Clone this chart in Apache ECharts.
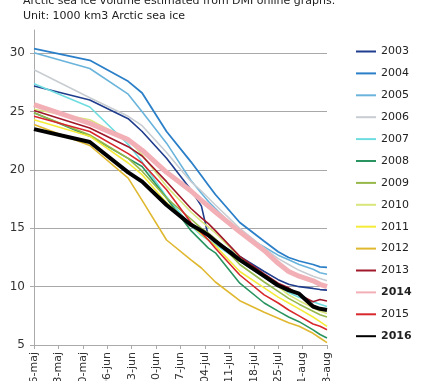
<!DOCTYPE html>
<html>
<head>
<meta charset="utf-8">
<script src="https://cdn.jsdelivr.net/npm/echarts@6/dist/echarts.min.js"></script>
<style>html,body{margin:0;padding:0;background:#fff}#c{width:421px;height:381px}</style>
</head>
<body>
<div id="c"></div>
<script>
// x positions are days after 16-maj
var days = [0, 16, 27, 31, 38, 45, 48, 50, 52, 59, 66, 70, 73, 76, 80, 82, 84];
var tickLabels = ["16-maj","23-maj","30-maj","06-jun","13-jun","20-jun","27-jun","04-jul","11-jul","18-jul","25-jul","01-aug","08-aug"];
var years = ["2003","2004","2005","2006","2007","2008","2009","2010","2011","2012","2013","2014","2015","2016"];
var v2003 = [27.2,26.0,24.4,23.3,21.0,18.3,16.9,14.3,13.9,12.6,11.3,10.6,10.2,10.0,9.85,9.75,9.7];
var v2004 = [30.4,29.4,27.6,26.6,23.3,20.7,19.5,18.7,17.9,15.5,13.9,13.0,12.5,12.2,11.9,11.7,11.66];
var v2005 = [30.05,28.7,26.5,25.0,22.3,19.1,18.0,17.3,16.7,14.6,13.4,12.7,12.3,11.9,11.5,11.2,11.06];
var v2006 = [28.6,26.2,24.6,23.8,21.5,19.0,18.2,17.6,17.0,15.0,13.3,12.4,11.9,11.4,10.9,10.7,10.5];
var v2007 = [27.4,25.4,22.2,20.7,17.7,15.2,14.4,14.0,13.6,12.2,10.8,10.0,9.5,9.1,8.7,8.5,8.3];
var v2008 = [24.9,22.9,21.0,20.3,17.6,14.8,13.9,13.3,12.9,10.3,8.6,7.9,7.4,7.0,6.3,5.9,5.6];
var v2009 = [24.9,23.0,21.0,19.9,17.6,15.8,15.0,14.6,14.1,11.9,10.4,9.6,9.0,8.5,7.9,7.6,7.4];
var v2010 = [25.2,24.3,22.6,21.3,18.6,16.4,15.6,15.1,14.6,12.5,10.9,10.0,9.3,8.8,8.2,7.9,7.7];
var v2011 = [24.3,22.9,20.6,19.6,17.2,15.3,14.5,14.0,13.5,11.3,9.9,9.1,8.6,8.1,7.4,7.0,6.6];
var v2012 = [23.9,22.1,19.3,17.4,14.0,12.3,11.6,11.0,10.4,8.8,7.8,7.3,6.9,6.6,6.0,5.6,5.2];
var v2013 = [25.1,23.6,22.0,21.2,19.0,16.7,15.9,15.4,14.8,12.6,11.1,10.3,9.9,9.3,8.7,8.9,8.77];
var v2014 = [25.6,24.0,22.6,21.7,19.8,18.2,17.4,16.9,16.4,14.7,13.1,12.0,11.3,10.9,10.5,10.2,10.0];
var v2015 = [24.6,23.3,21.4,20.6,18.3,15.5,14.6,14.0,13.3,11.0,9.3,8.6,8.0,7.5,6.8,6.6,6.3];
var v2016 = [23.5,22.4,19.8,19.0,17.0,15.3,14.8,14.4,13.9,12.3,10.9,10.1,9.7,9.4,8.3,8.1,8.0];
var values = [v2003,v2004,v2005,v2006,v2007,v2008,v2009,v2010,v2011,v2012,v2013,v2014,v2015,v2016];

var colors = ["#1f3d8c","#2a7fc8","#6ab4dc","#c8cdd2","#6fdde0","#2a9460","#96b84a","#d8e67c","#f5ec3a","#e0b830","#a0182a","#f2b0b6","#d8282c","#000000"];
var widths = [1.6,1.8,1.6,1.6,1.6,1.6,1.6,1.6,1.6,1.6,1.6,5,1.6,4];
var boldYears = {"2014":true,"2016":true};

var series = years.map(function(y, i){
  return {
    name: y, type: 'line', symbol: 'none', smooth: false,
    data: days.map(function(d, k){ return [d, values[i][k]]; }),
    lineStyle: {color: colors[i], width: widths[i]},
    itemStyle: {color: colors[i]},
    emphasis: {disabled: true},
    z: (y === "2016" ? 5 : (y === "2014" ? 3 : 2))
  };
});

var chart = echarts.init(document.getElementById('c'), null, {renderer: 'canvas'});
chart.setOption({
  animation: false,
  backgroundColor: '#fff',
  textStyle: {fontFamily: 'DejaVu Sans'},
  title: {
    text: 'Arctic sea ice volume estimated from DMI online graphs.\nUnit: 1000 km3 Arctic sea ice',
    left: 18, top: -11,
    textStyle: {fontFamily: 'DejaVu Sans', fontSize: 11, fontWeight: 'normal', color: '#222', lineHeight: 15}
  },
  grid: {left: 34, right: 94, top: 30, bottom: 36, containLabel: false, outerBoundsMode: 'none'},
  legend: {
    orient: 'vertical', left: 350, top: 41,
    itemWidth: 20, itemHeight: 10, itemGap: 10.9,
    itemStyle: {opacity: 0},
    data: years.map(function(y){
      return {name: y, textStyle: {fontWeight: boldYears[y] ? 'bold' : 'normal'}};
    }),
    textStyle: {fontFamily: 'DejaVu Sans', fontSize: 11, color: '#222'}
  },
  xAxis: {
    type: 'value', min: 0, max: 84, interval: 7,
    axisLine: {show: true, lineStyle: {color: '#aaa'}},
    axisTick: {show: true, length: 4, lineStyle: {color: '#aaa'}},
    splitLine: {show: false},
    axisLabel: {
      rotate: 90, margin: 7, fontSize: 11, color: '#333', fontFamily: 'DejaVu Sans',
      formatter: function(v){ return tickLabels[Math.round(v/7)] || ''; }
    }
  },
  yAxis: {
    type: 'value', min: 5, max: 32, interval: 5,
    axisLine: {show: true, lineStyle: {color: '#aaa'}},
    axisTick: {show: true, length: 4, lineStyle: {color: '#aaa'}},
    splitLine: {show: true, showMaxLine: false, lineStyle: {color: '#a8a8a8'}},
    axisLabel: {
      margin: 9, fontSize: 12, color: '#333', fontFamily: 'DejaVu Sans', showMaxLabel: false,
      formatter: function(v){ return (v % 5 === 0) ? String(v) : ''; }
    }
  },
  series: series
});
</script>
</body>
</html>
